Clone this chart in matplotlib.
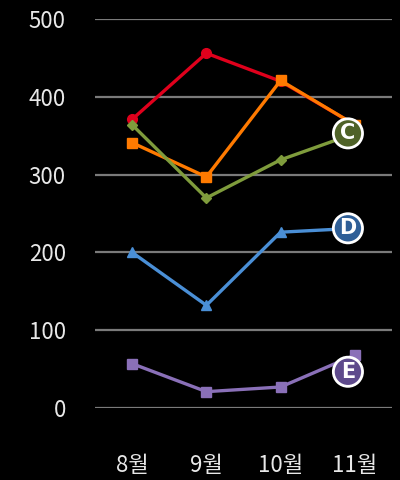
import matplotlib
matplotlib.use("Agg")
import matplotlib.pyplot as plt
import numpy as np

plt.rcParams['font.family'] = ['Noto Sans CJK KR', 'DejaVu Sans']

months = ['8월', '9월', '10월', '11월']
red = [371, 456, 420, 364]
orange = [341, 297, 421, 364]
green = [364, 270, 319, 353]
blue = [200, 132, 226, 231]
purple = [57, 21, 27, 68]
yticks = [0, 100, 200, 300, 400, 500]

fig = plt.figure(figsize=(4, 4.8), dpi=100, facecolor='black')
ax = fig.add_axes([0.2375, 0.15, 0.7425, 0.8104])
ax.set_facecolor('black')
x = np.arange(len(months))

for v in yticks:
    ax.axhline(v, color='#7a7a7a', lw=1.6, zorder=0)

ax.plot(x, red, color='#e0001c', lw=2.4, marker='o', ms=7, zorder=2)
ax.plot(x, orange, color='#ff7a00', lw=2.4, marker='s', ms=7, zorder=3)
ax.plot(x, green, color='#7f9c3c', lw=2.4, marker='D', ms=5, zorder=4)
ax.plot(x, blue, color='#4a8fd6', lw=2.4, marker='^', ms=7, zorder=3)
ax.plot(x, purple, color='#8a70b8', lw=2.4, marker='s', ms=7, zorder=3)

def badge(letter, yval, color, dy):
    ax.annotate(letter, xy=(x[-1], yval), xytext=(-5, dy), textcoords='offset points',
                ha='center', va='center', color='white', fontsize=15, fontweight='bold',
                family=['DejaVu Sans'],
                bbox=dict(boxstyle='circle,pad=0.22', fc=color, ec='white', lw=2),
                zorder=10)

badge('C', green[-1], '#4f6228', 0)
badge('D', blue[-1], '#2f5f97', 0)
badge('E', purple[-1], '#5e4a8c', -12)

ax.set_xlim(-0.5, 3.5)
ax.set_ylim(0, 500)
ax.set_yticks(yticks)
ax.set_xticks(x)
ax.set_xticklabels(months)
for s in ax.spines.values():
    s.set_visible(False)
ax.tick_params(axis='y', length=0, pad=21, labelsize=16, labelcolor='#e8e8e8')
ax.tick_params(axis='x', length=0, pad=33, labelsize=16, labelcolor='#e8e8e8')

fig.savefig('out.png', dpi=100, facecolor='black')
